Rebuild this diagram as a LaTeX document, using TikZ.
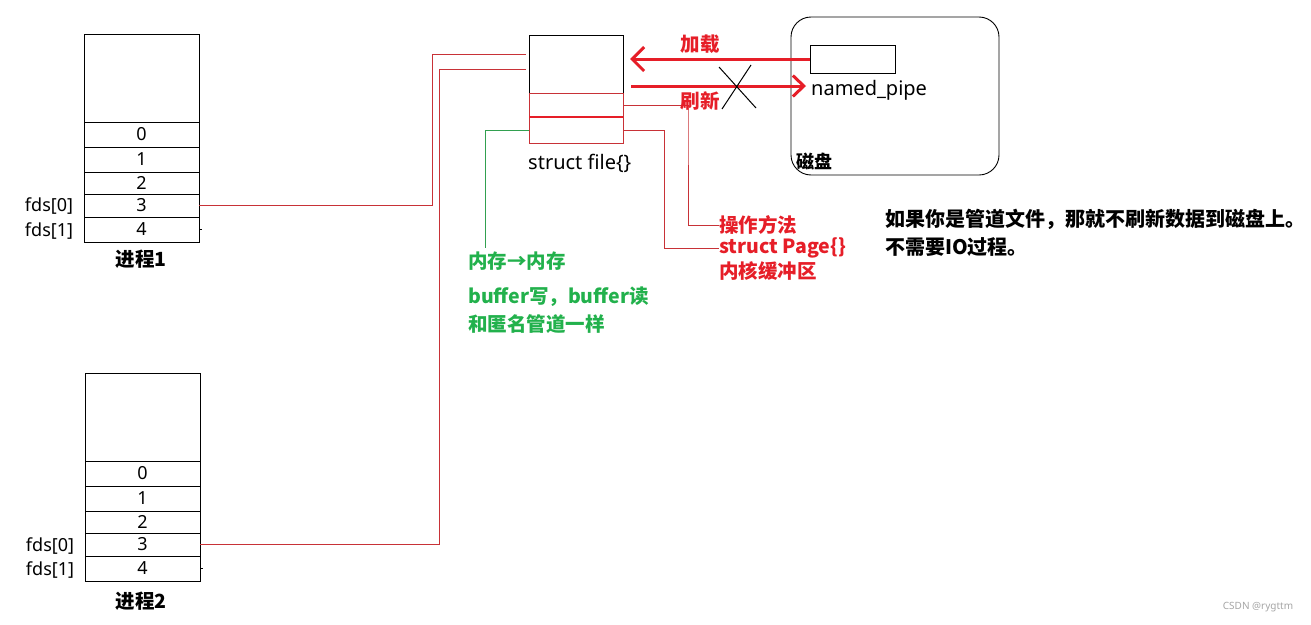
\documentclass[tikz,border=0pt]{standalone}
\usepackage{fontspec}
\setmainfont{Noto Sans}
\newfontfamily\cjk{Noto Sans CJK SC}
\usetikzlibrary{arrows.meta}
\definecolor{lred}{RGB}{200,50,55}
\definecolor{bred}{RGB}{230,30,40}
\definecolor{tgreen}{RGB}{34,177,76}
\definecolor{lgreen}{RGB}{50,160,80}
\begin{document}
\begin{tikzpicture}[x=1pt,y=-1pt,
  cell/.style={draw=black,line width=0.9pt,minimum width=115pt,inner sep=0pt,outer sep=0pt,font=\fontsize{18}{20}\selectfont},
  sfcell/.style={line width=0.9pt,minimum width=94pt,inner sep=0pt,outer sep=0pt},
  lbl/.style={inner sep=0pt,font=\fontsize{18}{20}\selectfont},
  biglbl/.style={inner sep=0pt,font=\fontsize{20}{22}\selectfont},
  cjkb/.style={inner sep=0pt,font=\cjk\bfseries\fontsize{19.5}{22}\selectfont},
  redtxt/.style={cjkb,text=bred,anchor=west},
  greentxt/.style={cjkb,text=tgreen,anchor=west},
  redline/.style={draw=lred,line width=0.9pt},
  greenline/.style={draw=lgreen,line width=0.9pt},
  bigarrow/.style={draw=bred,line width=3pt,-{Straight Barb[length=12pt,width=24pt,line width=3pt]}},
]
\useasboundingbox (0,0) rectangle (1311,624);
\fill[white] (0,0) rectangle (1311,624);

% process 1
\node[cell,minimum height=88pt] (p1t) at (141.5,78) {};
\node[cell,minimum height=25pt] (p1r0) at (141.5,134.5) {0};
\node[cell,minimum height=25pt] (p1r1) at (141.5,159.5) {1};
\node[cell,minimum height=22pt] (p1r2) at (141.5,183) {2};
\node[cell,minimum height=23pt] (p1r3) at (141.5,205.5) {3};
\node[cell,minimum height=25pt] (p1r4) at (141.5,229.5) {4};
\node[lbl] (f10) at (49,206) {fds[0]};
\node[lbl] (f11) at (49,231) {fds[1]};
\node[cjkb] (n1) at (141,259) {进程1};
\draw[line width=0.8pt] (p1r4.east) -- ++(3,0);

% process 2
\node[cell,minimum height=88pt] (p2t) at (142.5,417) {};
\node[cell,minimum height=25pt] (p2r0) at (142.5,473.5) {0};
\node[cell,minimum height=25pt] (p2r1) at (142.5,498.5) {1};
\node[cell,minimum height=22pt] (p2r2) at (142.5,522) {2};
\node[cell,minimum height=23pt] (p2r3) at (142.5,544.5) {3};
\node[cell,minimum height=25pt] (p2r4) at (142.5,568.5) {4};
\node[lbl] (f20) at (50,546) {fds[0]};
\node[lbl] (f21) at (50,570) {fds[1]};
\node[cjkb] (n2) at (141,601) {进程2};
\draw[line width=0.8pt] (p2r4.east) -- ++(3,0);

% struct file
\node[sfcell,draw=black,minimum height=58pt] (sf1) at (576,64) {};
\node[sfcell,draw=lred,minimum height=24pt] (sf2) at (576,105) {};
\node[sfcell,draw=lred,minimum height=26pt] (sf3) at (576,130) {};
\draw[draw=bred,line width=2pt] (sf2.south west) -- (sf2.south east);
\node[biglbl,anchor=west] (sft) at (528,163) {struct file\{\}};

% connectors from processes
\coordinate (j1) at (432,54);
\coordinate (e1) at (526,54);
\coordinate (j2) at (439,69);
\coordinate (e2) at (526,69);
\draw[redline] (p1r3.east) -| (j1) -- (e1);
\draw[redline] (p2r3.east) -| (j2) -- (e2);

% green connector and texts
\coordinate (g1) at (485,248);
\draw[greenline] (sf3.west) -| (g1);
\node[greentxt] (gt1) at (468,261) {内存→内存};
\node[greentxt] (gt2) at (468,297) {buffer写，buffer读};
\node[greentxt] (gt3) at (468,324) {和匿名管道一样};

% red texts and connectors
\node[redtxt] (rt1) at (719,225) {操作方法};
\node[redtxt] (rt2) at (719,248) {struct Page\{\}};
\node[redtxt] (rt3) at (719,271) {内核缓冲区};
\coordinate (r1) at (688,106);
\coordinate (r2) at (664,130);
\draw[redline] (sf2.east) -| (r1) |- (rt1.west);
\draw[redline] (sf3.east) -| (r2) |- (rt2.west);

% disk
\node[draw=black,line width=0.9pt,rounded corners=20pt,minimum width=208pt,minimum height=158pt,inner sep=0pt] (disk) at (895,96) {};
\node[draw=black,line width=0.9pt,minimum width=85pt,minimum height=28pt,inner sep=0pt] (pipe) at (852.5,59) {};
\node[biglbl,anchor=west] (pname) at (811,90) {named\_pipe};
\node[cjkb,anchor=west,font=\cjk\bfseries\fontsize{18}{20}\selectfont] (dname) at (796,161) {磁盘};

% arrows
\coordinate (a1) at (631,86);
\coordinate (a2) at (806,86);
\draw[bigarrow] (pipe.west) -- ([xshift=7pt]sf1.east |- pipe.west);
\draw[bigarrow,-{Straight Barb[length=11pt,width=21pt,line width=3pt]}] (a1) -- (a2);
\node[cjkb,text=bred] (load) at (700,44) {加载};
\node[cjkb,text=bred] (flush) at (700,101) {刷新};
\draw[line width=1pt] (719,67) -- (756,108);
\draw[line width=1pt] (751,65) -- (722,109);

% note
\node[cjkb,anchor=west,font=\cjk\bfseries\fontsize{20}{22}\selectfont] (note1) at (885,219) {如果你是管道文件，那就不刷新数据到磁盘上。};
\node[cjkb,anchor=west,font=\cjk\bfseries\fontsize{20}{22}\selectfont] (note2) at (885,247) {不需要IO过程。};

% watermark
\node[text=gray!70,inner sep=0pt,font=\fontsize{10}{12}\selectfont] (wm) at (1258,607) {CSDN @rygttm};
\end{tikzpicture}
\end{document}
